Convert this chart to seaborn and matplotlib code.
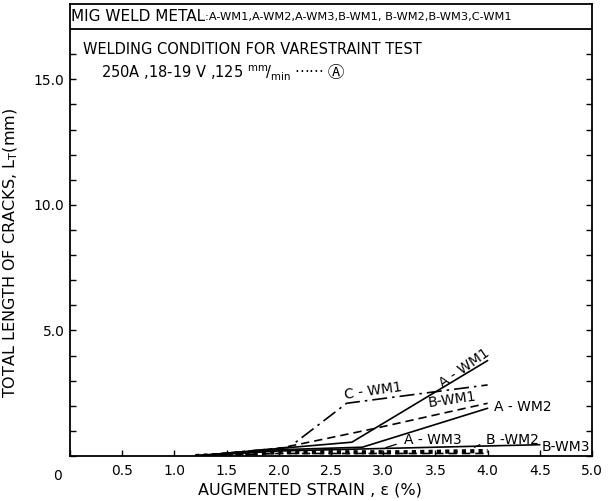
import numpy as np
import pandas as pd
import matplotlib
matplotlib.use('Agg')
import matplotlib.pyplot as plt
import seaborn as sns

# Augmented strain (%) and total crack length (mm)
strain_a_wm1 = [1.2, 2.0, 2.7, 4.0]
crack_a_wm1 = [0.0, 0.3, 0.55, 3.8]
strain_a_wm2 = [1.2, 2.0, 2.8, 4.0]
crack_a_wm2 = [0.0, 0.25, 0.35, 1.9]
strain_a_wm3 = [1.2, 2.0, 3.2, 4.0]
crack_a_wm3 = [0.0, 0.15, 0.15, 0.2]
strain_b_wm1 = [1.2, 2.0, 2.9, 4.0]
crack_b_wm1 = [0.0, 0.3, 1.08, 2.1]
strain_b_wm2 = [1.2, 2.0, 4.0]
crack_b_wm2 = [0.0, 0.1, 0.1]
strain_b_wm3 = [1.2, 2.0, 4.5]
crack_b_wm3 = [0.0, 0.2, 0.45]
strain_c_wm1 = [1.2, 2.1, 2.65, 4.0]
crack_c_wm1 = [0.0, 0.35, 2.1, 2.83]

x_ticks = [0, 0.5, 1.0, 1.5, 2.0, 2.5, 3.0, 3.5, 4.0, 4.5, 5.0]
x_tick_labels = ['', '0.5', '1.0', '1.5', '2.0', '2.5', '3.0', '3.5', '4.0', '4.5', '5.0']
y_ticks = list(range(0, 17))
y_tick_labels = {5: '5.0', 10: '10.0', 15: '15.0'}

series = {
    'A-WM1': (strain_a_wm1, crack_a_wm1, '-', 1.2),
    'A-WM2': (strain_a_wm2, crack_a_wm2, '-', 1.2),
    'A-WM3': (strain_a_wm3, crack_a_wm3, (0, (1, 1)), 3.0),
    'B-WM1': (strain_b_wm1, crack_b_wm1, (0, (5, 3)), 1.2),
    'B-WM2': (strain_b_wm2, crack_b_wm2, (0, (5, 3)), 1.2),
    'B-WM3': (strain_b_wm3, crack_b_wm3, '-', 1.2),
    'C-WM1': (strain_c_wm1, crack_c_wm1, (0, (9, 3, 1.5, 3)), 1.2),
}

sns.set_style('ticks')
plt.rcParams['font.family'] = ['DejaVu Sans', 'Noto Sans CJK JP']
plt.rcParams['text.color'] = 'black'
plt.rcParams['axes.labelcolor'] = 'black'
plt.rcParams['xtick.color'] = 'black'
plt.rcParams['ytick.color'] = 'black'
plt.rcParams['axes.edgecolor'] = 'black'

fig = plt.figure(figsize=(6.13, 5.01), dpi=100)
ax = fig.add_axes([70 / 613, 45 / 501, 522 / 613, 452 / 501])

for name, (xs, ys, ls, lw) in series.items():
    df = pd.DataFrame({'strain': xs, 'crack': ys})
    sns.lineplot(data=df, x='strain', y='crack', ax=ax, color='black',
                 linestyle=ls, linewidth=lw, sort=False)

ax.set_xlim(0, 5.0)
ax.set_ylim(0, 18)
ax.set_xticks(x_ticks)
ax.set_xticklabels(x_tick_labels, fontsize=10)
ax.set_yticks(y_ticks)
ax.set_yticklabels([y_tick_labels.get(v, '') for v in y_ticks], fontsize=10)
ax.tick_params(direction='in', length=4, width=1, right=True, pad=4)
ax.tick_params(axis='x', pad=6)
for sp in ax.spines.values():
    sp.set_linewidth(1.3)
ax.text(-0.12, -0.5, '0', ha='center', va='top', fontsize=10, clip_on=False)

ax.set_xlabel('AUGMENTED STRAIN , ε (%)', fontsize=11.5)
ax.xaxis.set_label_coords(0.46, -0.058)
ax.set_ylabel('TOTAL LENGTH OF CRACKS, L$_\\mathregular{T}$(mm)', fontsize=11.5)
ax.yaxis.set_label_coords(-0.095, 0.45)

# header box
ax.axhline(17, color='black', lw=1.3)
t1 = ax.text(0.01, 17.5, 'MIG WELD METAL', fontsize=11, va='center', ha='left')
ax.annotate(':A-WM1,A-WM2,A-WM3,B-WM1, B-WM2,B-WM3,C-WM1', xy=(1, 0.5), xycoords=t1,
            va='center', ha='left', fontsize=8.2)
ax.text(0.12, 16.2, 'WELDING CONDITION FOR VARESTRAINT TEST', fontsize=10.5, va='center')
t2 = ax.text(0.3, 15.25, '250A ,18-19 V ,125 $\\mathregular{^{mm}\\!/_{min}}$ ······',
             fontsize=10.5, va='center')
ax.annotate(' Ⓐ', xy=(1, 0.5), xycoords=t2, va='center', ha='left',
            fontsize=12, family=['Noto Sans CJK JP', 'DejaVu Sans'])

# curve labels
lab_kw = dict(fontsize=10, ha='center', va='center')
ax.text(3.78, 3.5, 'A - WM1', rotation=35, **lab_kw)
ax.text(2.9, 2.6, 'C - WM1', rotation=8, **lab_kw)
ax.text(3.66, 2.25, 'B-WM1', rotation=8, **lab_kw)
ax.text(4.34, 1.96, 'A - WM2', **lab_kw)
ax.text(3.48, 0.62, 'A - WM3', **lab_kw)
ax.text(4.24, 0.62, 'B -WM2', **lab_kw)
ax.text(4.75, 0.36, 'B-WM3', **lab_kw)
ax.annotate('', xy=(3.0, 0.3), xytext=(3.15, 0.5),
            arrowprops=dict(arrowstyle='-', color='black', lw=0.9))
ax.annotate('', xy=(3.85, 0.3), xytext=(3.95, 0.5),
            arrowprops=dict(arrowstyle='-', color='black', lw=0.9))

fig.savefig('out.png', dpi=100)
